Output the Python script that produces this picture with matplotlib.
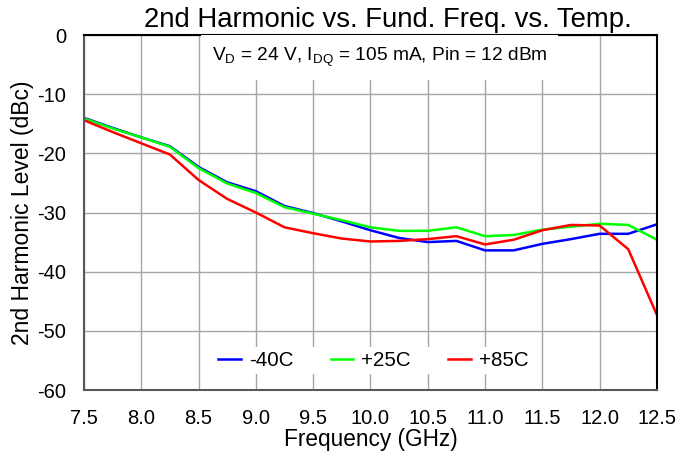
import matplotlib
matplotlib.use("Agg")
import matplotlib.pyplot as plt

plt.rcParams['font.family'] = ['Liberation Sans', 'DejaVu Sans']
plt.rcParams['mathtext.fontset'] = 'custom'
plt.rcParams['mathtext.rm'] = 'Liberation Sans'
plt.rcParams['axes.unicode_minus'] = False

freq = [7.5, 7.75, 8.0, 8.25, 8.5, 8.75, 9.0, 9.25, 9.5, 9.75, 10.0,
        10.25, 10.5, 10.75, 11.0, 11.25, 11.5, 11.75, 12.0, 12.25, 12.5]
m40 = [-14.0, -15.7, -17.3, -18.8, -22.3, -24.9, -26.4, -28.9, -30.1, -31.5, -33.0,
       -34.3, -35.0, -34.8, -36.4, -36.4, -35.3, -34.5, -33.6, -33.6, -32.0]
p25 = [-14.1, -15.8, -17.3, -18.9, -22.5, -25.1, -26.7, -29.1, -30.2, -31.3, -32.5,
       -33.1, -33.1, -32.5, -34.0, -33.8, -32.9, -32.4, -31.9, -32.1, -34.6]
p85 = [-14.4, -16.4, -18.3, -20.2, -24.5, -27.7, -30.0, -32.5, -33.5, -34.4, -34.9,
       -34.8, -34.5, -34.0, -35.4, -34.6, -33.0, -32.1, -32.2, -36.2, -47.3]
labels = ['-40C', '+25C', '+85C']
colors = ['#0000ff', '#00ff00', '#ff0000']
xticks = [7.5, 8.0, 8.5, 9.0, 9.5, 10.0, 10.5, 11.0, 11.5, 12.0, 12.5]
yticks = [0, -10, -20, -30, -40, -50, -60]

fig = plt.figure(figsize=(6.8, 4.57), dpi=100)
ax = fig.add_axes([0.1235, 0.1466, 0.8425, 0.7768])

for ys, lab, c in zip([m40, p25, p85], labels, colors):
    ax.plot(freq, ys, color=c, lw=1.8, label=lab)

ax.set_xlim(7.5, 12.5)
ax.set_ylim(-60, 0)
ax.set_xticks(xticks)
ax.set_xticklabels([f'{v:.1f}' for v in xticks])
ax.set_yticks(yticks)
ax.grid(True, color='#a6a6a6', lw=1.0)
ax.set_axisbelow(True)
ax.tick_params(length=0, labelsize=14.5)
ax.tick_params(axis='x', pad=14)
ax.tick_params(axis='y', pad=13)
for s in ['top', 'right']:
    ax.spines[s].set_color('black')
    ax.spines[s].set_linewidth(1.5)
for s in ['left', 'bottom']:
    ax.spines[s].set_color('#595959')
    ax.spines[s].set_linewidth(1.5)

ax.set_title('2nd Harmonic vs. Fund. Freq. vs. Temp.', fontsize=19.8, pad=6, x=0.53)
ax.set_xlabel('Frequency (GHz)', fontsize=16.3, labelpad=0)
ax.set_ylabel('2nd Harmonic Level (dBc)', fontsize=16.5, labelpad=2)

ax.text(0.516, 0.937,
        r'V$_\mathregular{D}$ = 24 V, I$_\mathregular{DQ}$ = 105 mA, Pin = 12 dBm',
        transform=ax.transAxes, ha='center', va='center', fontsize=13.8,
        bbox=dict(facecolor='white', edgecolor='none', pad=8))

leg = ax.legend(loc='lower center', ncol=3, frameon=True, fontsize=14.8,
                bbox_to_anchor=(0.505, 0.045), handlelength=1.1, columnspacing=1.8,
                handletextpad=0.4, borderaxespad=0, borderpad=0.2)
leg.get_frame().set_facecolor('white')
leg.get_frame().set_edgecolor('none')
leg.get_frame().set_alpha(1.0)

fig.savefig('out.png', dpi=100)
